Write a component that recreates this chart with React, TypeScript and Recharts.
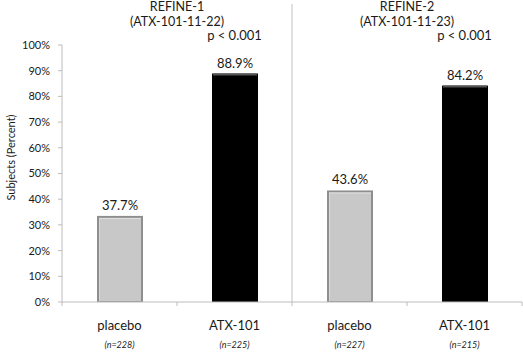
import { BarChart, Bar, XAxis, YAxis, LabelList, ReferenceLine, ReferenceDot } from "recharts";

const categories = ["placebo", "ATX-101", "placebo", "ATX-101"];
const sampleSizes = ["(n=228)", "(n=225)", "(n=227)", "(n=215)"];
// bar heights as drawn in the figure; printed labels kept separately
const barHeights = [33.5, 88.9, 43.4, 84.2];
const valueLabels = ["37.7%", "88.9%", "43.6%", "84.2%"];
const studies = ["REFINE-1", "REFINE-2"];
const protocols = ["(ATX-101-11-22)", "(ATX-101-11-23)"];
const pValues = ["p < 0.001", "p < 0.001"];
const yTicks = [0, 10, 20, 30, 40, 50, 60, 70, 80, 90, 100];

const data = categories.map((c, i) => ({
  key: `c${i}`,
  name: c,
  n: sampleSizes[i],
  value: barHeights[i],
  label: valueLabels[i],
}));

const FONT = "Lato, 'Open Sans', sans-serif";
const TEXT = "#1a1a1a";
const AXIS = "#bcbcbc";

function BevelBar(props: Record<string, unknown>) {
  const { x, y, width, height, payload } = props as {
    x: number; y: number; width: number; height: number; payload: { name: string };
  };
  if (!height || height <= 0) return null;
  if (payload.name === "placebo") {
    return (
      <g>
        <rect x={x} y={y} width={width} height={height} fill="#8e8e8e" />
        <rect x={x + 2} y={y + 2} width={width - 4} height={height - 3} fill="#c8c8c8" />
        <line x1={x + 2} x2={x + width - 2} y1={y + 2.5} y2={y + 2.5} stroke="#e2e2e2" strokeWidth={1} />
        <line x1={x + 2.5} x2={x + 2.5} y1={y + 2} y2={y + height - 1} stroke="#d8d8d8" strokeWidth={1} />
      </g>
    );
  }
  return (
    <g>
      <rect x={x} y={y} width={width} height={height} fill="#000" />
      <line x1={x + 1} x2={x + width - 1} y1={y + 1} y2={y + 1} stroke="#555" strokeWidth={2} />
    </g>
  );
}

function CategoryTick(props: Record<string, unknown>) {
  const { x, y, index, width, visibleTicksCount, payload } = props as {
    x: number; y: number; index: number; width: number; visibleTicksCount: number; payload: { value: string };
  };
  const d = data.find((r) => r.key === payload.value) ?? data[index];
  const band = (width || 460) / (visibleTicksCount || 4);
  return (
    <g>
      <line x1={x - band / 2} x2={x - band / 2} y1={y} y2={y + 4} stroke={AXIS} />
      {index === data.length - 1 && (
        <line x1={x + band / 2} x2={x + band / 2} y1={y} y2={y + 4} stroke={AXIS} />
      )}
      <text x={x} y={y + 28} textAnchor="middle" fontSize={13} fill={TEXT} fontFamily={FONT}>
        {d.name}
      </text>
      <text x={x} y={y + 46} textAnchor="middle" fontSize={9} fontStyle="italic" fill={TEXT} fontFamily={FONT}>
        {d.n}
      </text>
    </g>
  );
}

function textLabel(value: string, size = 13) {
  return { value, position: "center" as const, fill: TEXT, fontSize: size, fontFamily: FONT };
}

export default function App() {
  return (
    <div style={{ position: "absolute", left: 0, top: 0, background: "#fff" }}>
      <BarChart width={523} height={352} data={data} margin={{ top: 45, right: 1, bottom: 0, left: 0 }} barSize={46}>
        <XAxis
          dataKey="key"
          stroke={AXIS}
          tickLine={false}
          tickSize={0}
          tickMargin={0}
          tick={<CategoryTick />}
          height={50}
          interval={0}
        />
        <YAxis
          domain={[0, 100]}
          ticks={yTicks}
          tickFormatter={(v) => `${v}%`}
          stroke={AXIS}
          tickSize={4}
          tickMargin={8}
          width={62}
          tick={{ fill: TEXT, fontSize: 11, fontFamily: FONT }}
          label={{
            value: "Subjects (Percent)",
            angle: -90,
            position: "insideLeft",
            textAnchor: "middle",
            dx: 6,
            dy: -16,
            fill: TEXT,
            fontSize: 11,
            fontFamily: FONT,
          }}
        />
        <ReferenceLine
          segment={[{ x: "c1", y: 0 }, { x: "c1", y: 116 }]}
          position="end"
          stroke="#d6d6d6"
          strokeWidth={1.5}
          ifOverflow="visible"
        />
        {studies.map((s, i) => (
          <ReferenceLine
            key={s}
            segment={[{ x: `c${i * 2}`, y: 114.8 }, { x: `c${i * 2}`, y: 114.8 }]}
            position="end"
            stroke="none"
            ifOverflow="visible"
            label={textLabel(s, 12.5)}
          />
        ))}
        {protocols.map((s, i) => (
          <ReferenceLine
            key={s}
            segment={[{ x: `c${i * 2}`, y: 109.0 }, { x: `c${i * 2}`, y: 109.0 }]}
            position="end"
            stroke="none"
            ifOverflow="visible"
            label={textLabel(s, 12.5)}
          />
        ))}
        {pValues.map((s, i) => (
          <ReferenceDot key={`p${i}`} x={`c${i * 2 + 1}`} y={103.9} r={0.01} fill="none" stroke="none" ifOverflow="visible" label={textLabel(s)} />
        ))}
        <Bar dataKey="value" shape={<BevelBar />} isAnimationActive={false}>
          <LabelList dataKey="label" position="top" offset={6} fill={TEXT} fontSize={13} fontFamily={FONT} />
        </Bar>
      </BarChart>
    </div>
  );
}
